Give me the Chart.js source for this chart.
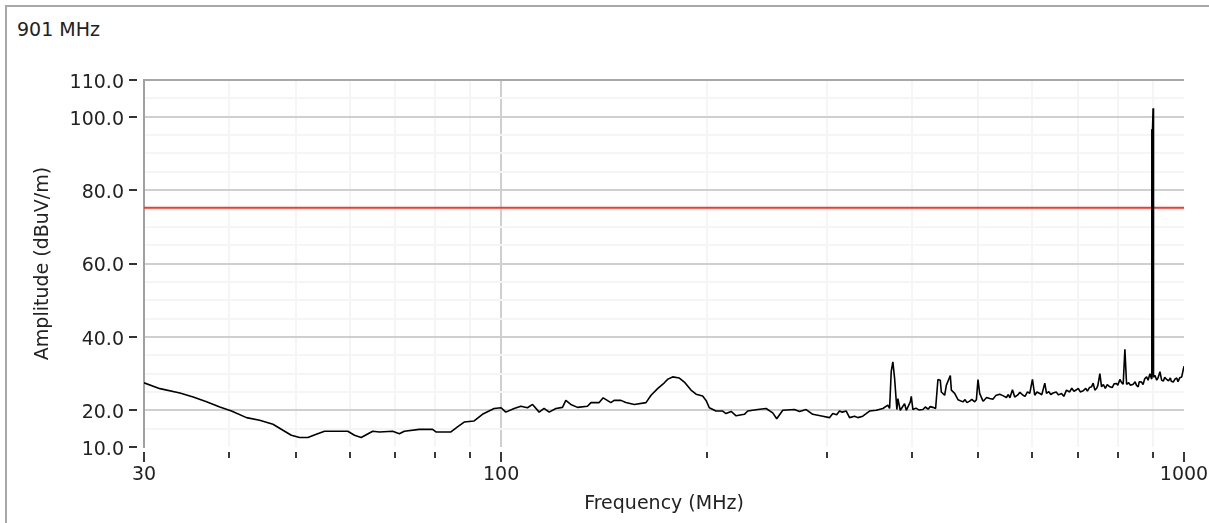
<!DOCTYPE html>
<html>
<head>
<meta charset="utf-8">
<title>Radiated emission scan</title>
<script src="https://cdn.jsdelivr.net/npm/chart.js@4.4.1/dist/chart.umd.min.js"></script>
<style>
  html, body { margin: 0; padding: 0; background: #fff; overflow: hidden; }
  #wrap { position: relative; width: 1209px; height: 523px; }
  #frame { position: absolute; left: 5px; top: 5px; width: 1300px; height: 600px;
           border-left: 2px solid #a8a8a8; border-top: 2px solid #a8a8a8; }
  #marker { position: absolute; left: 17px; top: 18px; line-height: 22px;
            font: 19px "DejaVu Sans", sans-serif; color: #222; white-space: nowrap; }
  #scan { position: absolute; left: 0; top: 0; }
</style>
</head>
<body>
<div id="wrap">
  <div id="frame"></div>
  <div id="marker">901 MHz</div>
  <canvas id="scan" width="1209" height="523"></canvas>
</div>
<script>
// Measured trace: frequency (MHz) and amplitude (dBuV/m)
const freqMHz = [
  30.0, 31.66, 33.86, 35.41, 37.04, 38.74, 40.29, 42.38, 44.31, 46.34,
  47.93, 49.30, 50.70, 52.13, 53.63, 55.14, 59.64, 61.00, 62.39, 64.87,
  66.35, 69.38, 70.96, 72.17, 75.90, 79.37, 80.29, 84.44, 86.33, 88.30,
  91.32, 93.91, 97.68, 100.0, 101.6, 104.5, 106.9, 109.3, 111.2, 113.7,
  115.6, 117.6, 120.3, 123.0, 124.4, 126.5, 129.4, 133.8, 135.4, 139.2,
  141.1, 144.8, 146.4, 149.8, 152.3, 156.7, 163.0, 165.8, 169.5, 173.4,
  175.5, 178.3, 182.4, 185.5, 189.7, 193.0, 197.3, 199.6, 201.8, 206.4,
  211.1, 213.5, 217.2, 220.9, 227.1, 229.7, 237.6, 244.4, 249.9, 253.3,
  258.5, 268.9, 273.5, 279.7, 286.0, 295.9, 302.6, 306.0, 310.0, 313.0,
  316.0, 320.2, 323.8, 329.3, 333.0, 338.6, 342.0, 346.4, 354.3, 362.3,
  368.4, 370.6, 372.7, 374.7, 376.9, 379.8, 381.1, 384.2, 389.8, 392.1,
  397.4, 398.7, 400.9, 405.0, 409.0, 414.7, 418.0, 422.0, 425.0, 428.9,
  432.8, 436.2, 439.7, 441.2, 446.2, 448.7, 454.8, 456.4, 461.5, 466.7,
  474.6, 478.0, 481.0, 485.5, 489.0, 493.7, 496.6, 499.3, 502.1, 507.8,
  510.0, 514.0, 519.4, 525.0, 530.0, 537.2, 543.0, 549.5, 553.0, 556.0,
  560.8, 565.1, 571.0, 575.0, 581.2, 585.0, 590.0, 594.5, 599.9, 604.6,
  609.0, 614.9, 619.0, 625.4, 629.0, 634.0, 638.0, 643.1, 650.0, 655.0,
  661.6, 666.8, 672.9, 680.0, 685.0, 690.0, 696.0, 700.0, 705.0, 711.7,
  718.0, 722.0, 727.0, 732.2, 736.2, 740.4, 745.0, 748.0, 753.0, 757.3,
  762.0, 767.0, 772.0, 778.8, 785.0, 790.0, 796.7, 800.0, 805.6, 810.0,
  814.6, 819.3, 824.0, 830.0, 835.0, 842.6, 848.0, 852.0, 856.9, 860.0,
  866.8, 871.0, 876.0, 881.6, 886.0, 891.5, 896.0, 897.2, 898.2, 899.2,
  901.0, 902.3, 907.0, 911.9, 916.0, 922.1, 927.4, 933.0, 937.0, 943.2,
  949.0, 955.0, 958.0, 964.5, 970.0, 975.7, 980.0, 986.0, 992.3, 1000.0
];
const amplitude = [
  27.5, 25.9, 24.7, 23.6, 22.3, 20.9, 19.8, 18.0, 17.3, 16.2,
  14.55, 13.2, 12.6, 12.6, 13.5, 14.3, 14.3, 13.2, 12.6, 14.3,
  14.1, 14.3, 13.6, 14.3, 14.8, 14.8, 14.1, 14.1, 15.5, 16.8,
  17.1, 18.9, 20.5, 20.7, 19.5, 20.5, 21.1, 20.7, 21.6, 19.5,
  20.5, 19.5, 20.5, 20.8, 22.7, 21.6, 20.8, 21.1, 22.1, 22.1,
  23.4, 22.1, 22.7, 22.7, 22.1, 21.6, 22.1, 24.1, 25.9, 27.5,
  28.5, 29.1, 28.8, 27.7, 25.5, 24.4, 23.9, 22.7, 20.7, 19.8,
  19.8, 19.1, 19.7, 18.5, 18.9, 19.8, 20.2, 20.5, 19.3, 17.7,
  20.0, 20.2, 19.7, 20.2, 18.9, 18.4, 18.0, 19.1, 18.8, 19.8,
  19.5, 19.8, 18.0, 18.4, 18.0, 18.4, 19.0, 19.8, 20.0, 20.5,
  21.4, 20.5, 30.7, 33.2, 28.7, 20.2, 23.2, 20.0, 21.8, 20.0,
  22.3, 23.8, 20.2, 20.6, 20.1, 20.2, 20.9, 20.3, 21.0, 20.8,
  20.5, 28.4, 28.2, 25.0, 24.1, 26.8, 29.5, 25.5, 24.6, 22.9,
  22.3, 22.9, 22.1, 22.5, 23.0, 22.3, 22.9, 28.4, 24.6, 22.5,
  22.8, 23.5, 23.2, 23.0, 24.0, 24.4, 24.0, 23.5, 24.3, 23.4,
  25.6, 23.6, 24.2, 24.9, 24.1, 23.8, 25.0, 24.6, 28.4, 24.1,
  25.0, 24.6, 24.2, 27.4, 24.6, 25.1, 24.3, 24.7, 25.0, 24.2,
  24.6, 23.8, 25.5, 25.0, 26.0, 25.2, 25.6, 26.0, 25.0, 25.3,
  26.0, 25.2, 26.2, 26.4, 27.4, 25.5, 26.0, 26.8, 30.0, 26.4,
  27.0, 26.0, 27.0, 26.4, 26.2, 27.2, 27.3, 26.8, 28.4, 27.6,
  27.1, 36.6, 27.1, 27.5, 26.8, 27.1, 27.8, 26.8, 26.4, 27.8,
  27.7, 27.0, 28.6, 29.1, 28.2, 30.0, 28.6, 96.6, 30.0, 96.2,
  102.3, 29.0, 29.5, 28.2, 28.8, 30.5, 28.2, 28.0, 29.0, 28.4,
  28.0, 28.8, 27.9, 27.7, 28.5, 28.8, 27.8, 28.9, 29.1, 32.0
];

// Limit line
const limitFreq = [30, 1000];
const limitLevel = [75.2, 75.2];

// Axis ticks
const yTickValues = [10, 15, 20, 25, 30, 35, 40, 45, 50, 55, 60, 65, 70, 75, 80, 85, 90, 95, 100, 105, 110];
const yLabelled = [10, 20, 40, 60, 80, 100, 110];
const yMajorLines = [20, 40, 60, 80, 100];
const xTickValues = [30, 40, 50, 60, 70, 80, 90, 100, 200, 300, 400, 500, 600, 700, 800, 900, 1000];
const xLabelled = [30, 100, 1000];

const FONT = { family: '"DejaVu Sans", sans-serif', size: 19 };
const TEXT = '#222';
const NONE = 'rgba(0,0,0,0)';
const MINOR = '#f5f5f5';
const MAJOR = '#cfcfcf';

new Chart(document.getElementById('scan'), {
  type: 'line',
  data: {
    datasets: [
      {
        data: freqMHz.map((f, i) => ({ x: f, y: amplitude[i] })),
        borderColor: '#000',
        borderWidth: 1.6,
        borderJoinStyle: 'bevel',
        pointRadius: 0,
        tension: 0
      },
      {
        data: limitFreq.map((f, i) => ({ x: f, y: limitLevel[i] })),
        borderColor: '#f23a2f',
        borderWidth: 2,
        pointRadius: 0,
        tension: 0
      }
    ]
  },
  options: {
    responsive: false,
    animation: false,
    events: [],
    layout: { padding: { left: 0, right: 25, top: 80, bottom: 0 } },
    plugins: { legend: { display: false }, tooltip: { enabled: false }, title: { display: false } },
    scales: {
      x: {
        type: 'logarithmic',
        min: 30,
        max: 1000,
        afterBuildTicks: s => { s.ticks = xTickValues.map(v => ({ value: v })); },
        afterFit: s => { s.height = 76; s.paddingLeft = 0; s.paddingRight = 0; },
        border: { display: false },
        grid: {
          lineWidth: 2,
          color: c => {
            if (!c.tick) return NONE;
            const v = c.tick.value;
            if (v === 30 || v === 1000) return NONE;
            return v === 100 ? MAJOR : MINOR;
          },
          tickLength: 15,
          tickWidth: 2,
          tickColor: '#3a3a3a',
          tickBorderDash: c => (c.tick && xLabelled.includes(c.tick.value)) ? [0, 5, 10, 100] : [0, 5, 6, 100]
        },
        ticks: {
          autoSkip: false,
          maxRotation: 0,
          minRotation: 0,
          padding: 2,
          color: TEXT,
          font: FONT,
          callback: v => xLabelled.includes(v) ? String(v) : ''
        },
        title: {
          display: true,
          text: 'Frequency (MHz)',
          color: TEXT,
          font: FONT,
          padding: { top: 0, bottom: 8 }
        }
      },
      y: {
        min: 10,
        max: 110,
        afterBuildTicks: s => { s.ticks = yTickValues.map(v => ({ value: v })); },
        afterFit: s => { s.width = 144; s.paddingTop = 0; s.paddingBottom = 0; },
        border: { display: true, color: '#a0a0a0', width: 2 },
        grid: {
          lineWidth: 2,
          color: c => {
            if (!c.tick) return NONE;
            const v = c.tick.value;
            if (v === 10) return NONE;
            if (v === 110) return '#a8a8a8';
            return yMajorLines.includes(v) ? MAJOR : MINOR;
          },
          tickLength: 15,
          tickWidth: 2,
          tickColor: c => (c.tick && yLabelled.includes(c.tick.value)) ? '#333' : NONE,
          tickBorderDash: [8, 100]
        },
        ticks: {
          autoSkip: false,
          padding: 5,
          labelOffset: 3,
          color: TEXT,
          font: FONT,
          callback: v => yLabelled.includes(v) ? v.toFixed(1) : ''
        },
        title: {
          display: true,
          text: 'Amplitude (dBuV/m)',
          color: TEXT,
          font: FONT,
          padding: { top: 32, bottom: 0 }
        }
      }
    }
  }
});
</script>
</body>
</html>
